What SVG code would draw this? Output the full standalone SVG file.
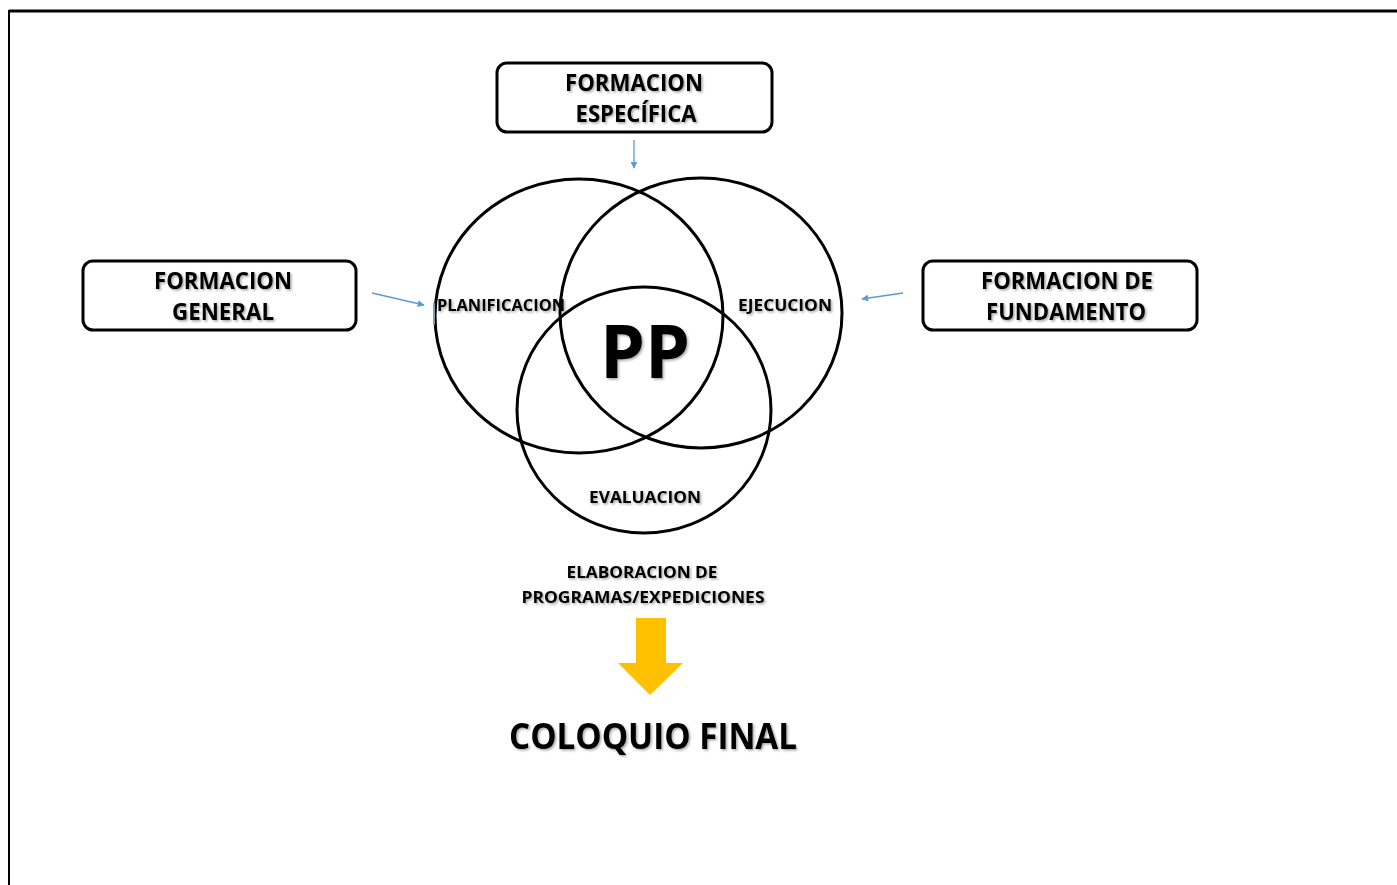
<svg xmlns="http://www.w3.org/2000/svg" width="1397" height="885" viewBox="0 0 1397 885">
<defs>
<style>
.box{fill:#fff;stroke:#000;stroke-width:3}
.circ{fill:none;stroke:#000;stroke-width:3}
.t{font-family:"Open Sans","Liberation Sans",sans-serif;font-weight:bold;fill:#000;text-anchor:middle}
.conn{stroke:#5B9BD5;stroke-width:1.3;fill:none}
</style>
<filter id="sh" x="-10%" y="-30%" width="120%" height="160%">
<feDropShadow dx="1.5" dy="1.5" stdDeviation="1" flood-color="#000" flood-opacity="0.35"/>
</filter>
<marker id="ah" viewBox="0 0 10 10" refX="9" refY="5" markerWidth="7" markerHeight="7" markerUnits="userSpaceOnUse" orient="auto">
<path d="M0,0 L10,5 L0,10 Z" fill="#5B9BD5"/>
</marker>
</defs>
<rect width="1397" height="885" fill="#fff"/>
<path d="M9,885 L9,11 L1397,11" fill="none" stroke="#000" stroke-width="2"/>
<line x1="9" y1="11" x2="1397" y2="11" stroke="#000" stroke-width="3"/>

<g id="formacion-especifica">
<rect class="box" x="497" y="63" width="275" height="69" rx="10"/>
<text class="t" filter="url(#sh)" font-size="22.5" x="634" y="91" textLength="138" lengthAdjust="spacingAndGlyphs">FORMACION</text>
<text class="t" filter="url(#sh)" font-size="22.5" x="636" y="122" textLength="121" lengthAdjust="spacingAndGlyphs">ESPECÍFICA</text>
</g>
<g id="formacion-general">
<rect class="box" x="83" y="261" width="273" height="69" rx="10"/>
<text class="t" filter="url(#sh)" font-size="22.5" x="223" y="289" textLength="138" lengthAdjust="spacingAndGlyphs">FORMACION</text>
<text class="t" filter="url(#sh)" font-size="22.5" x="223" y="320" textLength="102" lengthAdjust="spacingAndGlyphs">GENERAL</text>
</g>
<g id="formacion-fundamento">
<rect class="box" x="923" y="261" width="274" height="69" rx="10"/>
<text class="t" filter="url(#sh)" font-size="22.5" x="1067" y="289" textLength="172" lengthAdjust="spacingAndGlyphs">FORMACION DE</text>
<text class="t" filter="url(#sh)" font-size="22.5" x="1066" y="320" textLength="160" lengthAdjust="spacingAndGlyphs">FUNDAMENTO</text>
</g>

<g id="connectors">
<line class="conn" x1="634" y1="140" x2="634" y2="168" marker-end="url(#ah)"/>
<line class="conn" x1="372" y1="293" x2="424" y2="305" marker-end="url(#ah)"/>
<line class="conn" x1="903" y1="293" x2="862" y2="299" marker-end="url(#ah)"/>
</g>

<g id="planificacion">
<ellipse class="circ" cx="579" cy="316" rx="144" ry="137"/>
<rect x="433" y="303" width="2" height="22" fill="#7f9bb8"/>
<text class="t" filter="url(#sh)" font-size="16" x="501" y="311" textLength="128" lengthAdjust="spacingAndGlyphs">PLANIFICACION</text>
</g>
<g id="ejecucion">
<ellipse class="circ" cx="701" cy="313" rx="141" ry="135"/>
<text class="t" filter="url(#sh)" font-size="16" x="785" y="311" textLength="94" lengthAdjust="spacingAndGlyphs">EJECUCION</text>
</g>
<g id="evaluacion">
<ellipse class="circ" cx="644" cy="410" rx="127" ry="123"/>
<text class="t" filter="url(#sh)" font-size="16" x="645" y="503" textLength="112" lengthAdjust="spacingAndGlyphs">EVALUACION</text>
</g>
<g id="pp">
<text class="t" filter="url(#sh)" font-size="74" x="645" y="378" textLength="90" lengthAdjust="spacingAndGlyphs">PP</text>
</g>

<g id="elaboracion">
<text class="t" filter="url(#sh)" font-size="16" x="642" y="578" textLength="151" lengthAdjust="spacingAndGlyphs">ELABORACION DE</text>
<text class="t" filter="url(#sh)" font-size="16" x="643" y="603" textLength="243" lengthAdjust="spacingAndGlyphs">PROGRAMAS/EXPEDICIONES</text>
</g>
<g id="flecha">
<path d="M636,618 L666,618 L666,663 L683,663 L650,695 L618,663 L636,663 Z" fill="#FFC000"/>
</g>
<g id="coloquio-final">
<text class="t" filter="url(#sh)" font-size="35" x="653" y="749" textLength="288" lengthAdjust="spacingAndGlyphs">COLOQUIO FINAL</text>
</g>
</svg>
